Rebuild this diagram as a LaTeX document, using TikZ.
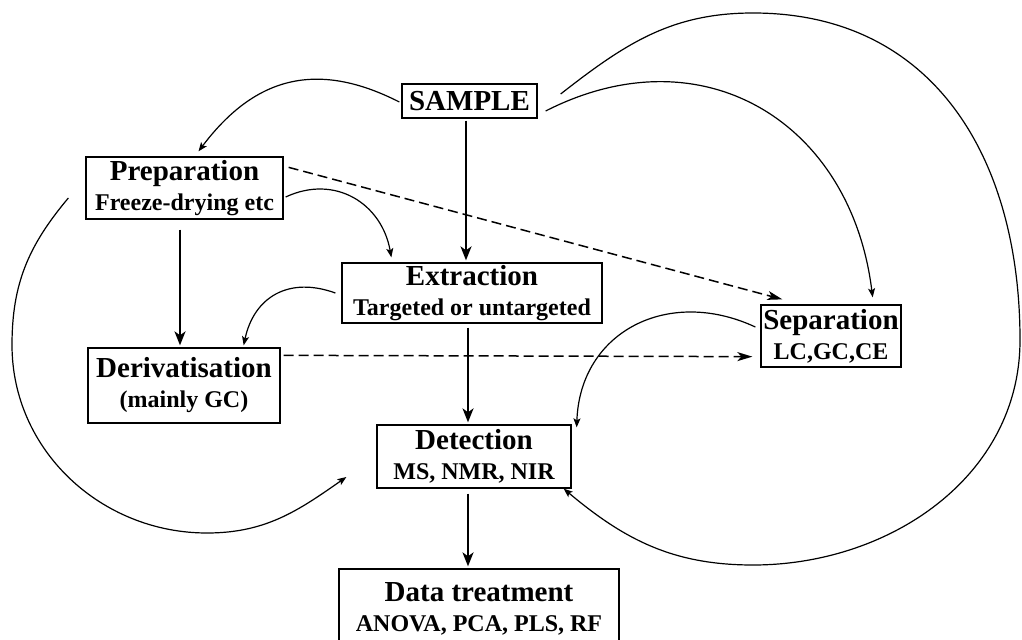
\documentclass[tikz,border=0pt]{standalone}
\usepackage{fontspec}
\setmainfont{Liberation Serif}
\usetikzlibrary{arrows.meta}
\usetikzlibrary{calc}
\tikzset{box/.style = {draw, line width=0.65pt, inner sep=0pt, align=center,
                       font=\bfseries\fontsize{14.5}{15}\selectfont},
         mainarrow/.style = {-{Stealth[length=7pt, width=5.5pt, inset=2pt]},
                             line width=1pt, shorten >=1pt},
         sidearrow/.style = {-{Stealth[length=4.5pt, width=3.5pt, inset=1pt]},
                             line width=0.6pt},
         optarrow/.style = {-{Stealth[length=7.5pt, width=4.5pt, inset=2pt]},
                            line width=0.75pt, dash pattern=on 5pt off 2.5pt}}
\newcommand{\subtext}[1]{{\fontsize{12}{15}\selectfont #1}}

\begin{document}
\begin{tikzpicture}[x=0.5pt, y=0.5pt]
    \useasboundingbox (0, 0) rectangle (1022, 639);

    \node [box, minimum width=67.5pt, minimum height=17pt] (sample) at (469.5, 538) {SAMPLE};
    \node [box, minimum width=98.5pt, minimum height=31pt] (prep) at (184.5, 451) {Preparation\\\subtext{Freeze-drying etc}};
    \node [box, minimum width=130pt, minimum height=30pt] (extr) at (472, 346) {Extraction\\\subtext{Targeted or untargeted}};
    \node [box, minimum width=96pt, minimum height=37.5pt] (deriv) at (184, 253.5) {Derivatisation\\\subtext{(mainly GC)}};
    \node [box, minimum width=70pt, minimum height=31pt] (sep) at (831, 303) {Separation\\\subtext{LC,GC,CE}};
    \node [box, minimum width=97pt, minimum height=31.5pt] (det) at (474, 182.5) {Detection\\\subtext{MS, NMR, NIR}};
    \node [box, minimum width=140pt, minimum height=39.5pt] (data) at (479, 30.5) {Data treatment\\\subtext{ANOVA, PCA, PLS, RF}};

    \draw [mainarrow, shorten <=1pt] ([xshift=-1.75pt]sample.south) -- ([xshift=-1.75pt]sample.south |- extr.north);
    \draw [mainarrow, shorten <=5pt] ([xshift=-2.25pt]prep.south) -- ([xshift=-2.25pt]prep.south |- deriv.north);
    \draw [mainarrow, shorten <=2pt] ([xshift=-2pt]extr.south) -- ([xshift=-2pt]extr.south |- det.north);
    \draw [mainarrow, shorten <=2.5pt] ([xshift=-3pt]det.south) -- ([xshift=-3pt]det.south |- data.north);

    \draw [sidearrow] ($(sample.west)+(-2, -1)$) to [out=153, in=53, looseness=1.15] ($(prep.north)+(14, 5)$);
    \draw [sidearrow] ($(prep.east)+(2, -9)$) to [out=25, in=100, looseness=1.15] ($(extr.north west)+(50, 5)$);
    \draw [sidearrow] ($(extr.west)+(-6, 0)$) to [out=160, in=78, looseness=1.2] ($(deriv.north east)+(-37, 2)$);
    \draw [sidearrow] ($(sample.east)+(8, -10)$) to [out=27, in=97, looseness=1.2] ($(sep.north east)+(-29, 7)$);
    \draw [sidearrow] ($(sep.west)+(-5, 9)$) to [out=155, in=88, looseness=1.2] ($(det.north east)+(5, -3)$);
    \draw [sidearrow] ($(sample.east)+(23, 7)$) to [out=38, in=180] (753, 626) to [out=0, in=90, looseness=1.1] (1020, 299)
        to [out=-90, in=0] (753, 74) to [out=180, in=-40] ($(det.south east)+(-8, 0)$);
    \draw [sidearrow] ($(prep.west)+(-17, -10)$) to [out=230, in=90] (12, 294) to [out=-90, in=180] (207, 106)
        to [out=0, in=215] ($(det.west)+(-30, -20.5)$);

    \draw [optarrow] ($(prep.north east)+(5, -11)$) -- ($(sep.north west)+(22, 5)$);
    \draw [optarrow] ($(deriv.north east)+(3, -8)$) -- ($(sep.south west)+(-8, 11)$);

\end{tikzpicture}
\end{document}
